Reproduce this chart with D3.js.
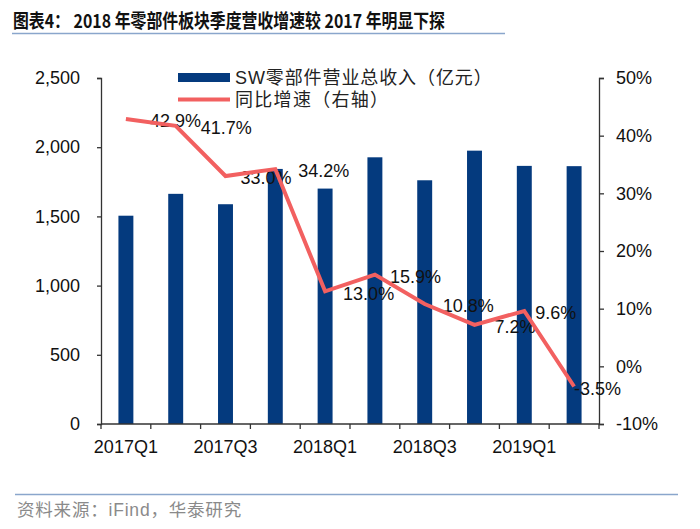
<!DOCTYPE html>
<html><head><meta charset="utf-8">
<script src="https://cdn.jsdelivr.net/npm/d3@7"></script>
<style>body{margin:0;background:#fff}svg{display:block}</style>
</head><body>
<script>
const categories = ["2017Q1","2017Q2","2017Q3","2017Q4","2018Q1","2018Q2","2018Q3","2018Q4","2019Q1","2019Q2"];
const revenue = [1505, 1663, 1588, 1843, 1701, 1927, 1761, 1975, 1865, 1863];
const growth = [42.9, 41.7, 33.0, 34.2, 13.0, 15.9, 10.8, 7.2, 9.6, -3.5];
const leftTicks = [0, 500, 1000, 1500, 2000, 2500];
const rightTicks = [-10, 0, 10, 20, 30, 40, 50];
const xLabelCats = ["2017Q1","2017Q3","2018Q1","2018Q3","2019Q1"];
const seriesNames = ["SW零部件营业总收入（亿元）", "同比增速（右轴）"];
const titleText = "图表4：  2018 年零部件板块季度营收增速较 2017 年明显下探";
const sourceText = "资料来源：iFind，华泰研究";
// label placement nudges (layout only)
const labelNudge = [24, 25, 15, 23, 18, 15, 18, 20, 11, 0];

const W = 700, H = 529;
const plot = {left: 101, right: 599, top: 78, bottom: 424};
const barColor = "#043a7e", lineColor = "#f26060";
const numFont = "'Liberation Sans', Arial, sans-serif";
const cjkFont = "'Liberation Sans', 'Noto Sans CJK SC', sans-serif";

const svg = d3.select("body").append("svg").attr("width", W).attr("height", H);

// title
svg.append("text").attr("x", 13).attr("y", 28)
  .attr("font-family", "'Noto Sans CJK SC', sans-serif").attr("font-weight", "bold")
  .attr("font-size", 19).attr("fill", "#111")
  .attr("textLength", 432).attr("lengthAdjust", "spacingAndGlyphs")
  .text(titleText);
svg.append("line").attr("x1", 12).attr("x2", 505).attr("y1", 33.5).attr("y2", 33.5)
  .attr("stroke", "#8aa6cc").attr("stroke-width", 1.5);

const x = d3.scaleBand().domain(categories).range([plot.left, plot.right]).padding(0);
const yL = d3.scaleLinear().domain([0, 2500]).range([plot.bottom, plot.top]);
const yR = d3.scaleLinear().domain([-10, 50]).range([plot.bottom, plot.top]);
const bw = x.bandwidth() * 0.3;

// bars
svg.append("g").selectAll("rect").data(revenue).join("rect")
  .attr("x", (d, i) => x(categories[i]) + x.bandwidth() / 2 - bw / 2)
  .attr("y", d => yL(d)).attr("width", bw).attr("height", d => yL(0) - yL(d))
  .attr("fill", barColor);

// left axis
const gL = svg.append("g").attr("transform", `translate(${plot.left},0)`)
  .call(d3.axisLeft(yL).tickValues(leftTicks).tickSize(4).tickPadding(17).tickFormat(d3.format(",")));
// right axis
const gR = svg.append("g").attr("transform", `translate(${plot.right},0)`)
  .call(d3.axisRight(yR).tickValues(rightTicks).tickSize(5).tickPadding(12).tickFormat(d => d + "%"));
[gL, gR].forEach(g => {
  g.select(".domain").attr("stroke", "#333").attr("stroke-width", 1.3);
  g.selectAll(".tick line").attr("stroke", "#333").attr("stroke-width", 1.3);
  g.selectAll(".tick text").attr("font-family", numFont).attr("font-size", 18).attr("fill", "#111");
});

// bottom axis
const gB = svg.append("g");
gB.append("line").attr("x1", plot.left).attr("x2", plot.right).attr("y1", plot.bottom).attr("y2", plot.bottom)
  .attr("stroke", "#333").attr("stroke-width", 1.3);
const bounds = categories.map(c => x(c)).concat([x(categories[categories.length - 1]) + x.bandwidth()]);
gB.selectAll("line.t").data(bounds).join("line").attr("class", "t")
  .attr("x1", d => d).attr("x2", d => d).attr("y1", plot.bottom).attr("y2", plot.bottom + 5)
  .attr("stroke", "#333").attr("stroke-width", 1.3);
gB.selectAll("text").data(xLabelCats).join("text")
  .attr("x", d => x(d) + x.bandwidth() / 2).attr("y", plot.bottom + 16).attr("dy", "0.71em")
  .attr("text-anchor", "middle").attr("font-family", numFont).attr("font-size", 18).attr("fill", "#111")
  .text(d => d);

// line
const line = d3.line().x((d, i) => x(categories[i]) + x.bandwidth() / 2).y(d => yR(d));
// labels
svg.append("g").selectAll("text").data(growth).join("text")
  .attr("x", (d, i) => x(categories[i]) + x.bandwidth() / 2 + labelNudge[i])
  .attr("y", d => yR(d) + 2).attr("dy", "0.35em")
  .attr("font-family", numFont).attr("font-size", 18).attr("fill", "#111")
  .text(d => d.toFixed(1) + "%");
svg.append("path").datum(growth).attr("d", line).attr("fill", "none")
  .attr("stroke", lineColor).attr("stroke-width", 4).attr("stroke-linejoin", "miter");

// legend
const lg = svg.append("g");
lg.append("rect").attr("x", 178).attr("y", 73).attr("width", 52).attr("height", 9).attr("fill", barColor);
lg.append("line").attr("x1", 178).attr("x2", 230).attr("y1", 99.5).attr("y2", 99.5)
  .attr("stroke", lineColor).attr("stroke-width", 4);
lg.selectAll("text").data(seriesNames).join("text")
  .attr("x", 235).attr("y", (d, i) => 78 + i * 21.5).attr("dy", "0.35em")
  .attr("font-family", cjkFont).attr("font-size", 18).attr("fill", "#222")
  .attr("letter-spacing", (d, i) => i === 0 ? 0.9 : 1.3)
  .text(d => d);

// source
svg.append("line").attr("x1", 15).attr("x2", 678).attr("y1", 494.5).attr("y2", 494.5)
  .attr("stroke", "#8aa6cc").attr("stroke-width", 1.3);
svg.append("text").attr("x", 17).attr("y", 510).attr("dy", "0.35em")
  .attr("font-family", cjkFont).attr("font-size", 17.5).attr("fill", "#8a8a8a")
  .attr("letter-spacing", 0.8)
  .text(sourceText);
</script>
</body></html>
